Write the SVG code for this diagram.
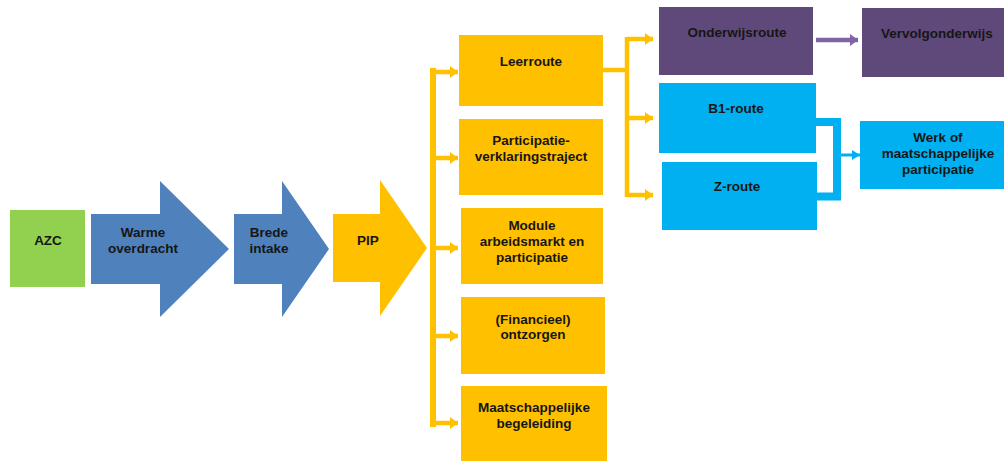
<svg xmlns="http://www.w3.org/2000/svg" width="1004" height="461" viewBox="0 0 1004 461">
<style>
text{font-family:"Liberation Sans",Arial,sans-serif;font-weight:bold;font-size:13.5px;fill:#161616;text-anchor:middle}
.green{fill:#92D050}
.blue{fill:#4F81BD}
.yellow{fill:#FFC000}
.purple{fill:#5F497A}
.cyan{fill:#00B0F0}
.ylink{fill:none;stroke:#FFC000;stroke-width:4.5}
.yspine{fill:none;stroke:#FFC000;stroke-width:6}
.plink{fill:none;stroke:#8064A2;stroke-width:4.5}
.clink{fill:none;stroke:#00B0F0;stroke-width:3}
.cbracket{fill:none;stroke:#00B0F0;stroke-width:8}
</style>
<defs>
<marker id="ay" markerUnits="userSpaceOnUse" markerWidth="8" markerHeight="12" refX="8" refY="6" orient="auto"><path d="M0,0 L8,6 L0,12 Z" fill="#FFC000"/></marker>
<marker id="ap" markerUnits="userSpaceOnUse" markerWidth="8" markerHeight="12" refX="8" refY="6" orient="auto"><path d="M0,0 L8,6 L0,12 Z" fill="#8064A2"/></marker>
<marker id="ac" markerUnits="userSpaceOnUse" markerWidth="8" markerHeight="10" refX="8" refY="5" orient="auto"><path d="M0,0 L8,5 L0,10 Z" fill="#00B0F0"/></marker>
</defs>

<g id="connectors">
<path class="yspine" d="M433,68 V427"/>
<path class="ylink" d="M433,72 H458" marker-end="url(#ay)"/>
<path class="ylink" d="M433,158 H458" marker-end="url(#ay)"/>
<path class="ylink" d="M433,248 H458" marker-end="url(#ay)"/>
<path class="ylink" d="M433,336 H458" marker-end="url(#ay)"/>
<path class="ylink" d="M433,423 H458" marker-end="url(#ay)"/>
<path class="ylink" d="M603,70 H627"/>
<path class="ylink" d="M627,37 V197"/>
<path class="ylink" d="M627,39 H653" marker-end="url(#ay)"/>
<path class="ylink" d="M627,118 H653" marker-end="url(#ay)"/>
<path class="ylink" d="M627,195 H653" marker-end="url(#ay)"/>
<path class="plink" d="M816,40 H858" marker-end="url(#ap)"/>
<path class="cbracket" d="M816,122 H837 V196.5 H817"/>
<path class="clink" d="M841,155 H860" marker-end="url(#ac)"/>
</g>

<g id="azc"><rect class="green" x="10" y="210" width="75" height="77"/><text x="48" y="245">AZC</text></g>
<g id="warme-overdracht"><polygon class="blue" points="91,214 160,214 160,181 229,249 160,317 160,284 91,284"/><text x="143" y="237">Warme</text><text x="143" y="253">overdracht</text></g>
<g id="brede-intake"><polygon class="blue" points="234,214 282,214 282,181 329,249 282,317 282,284 234,284"/><text x="269" y="237">Brede</text><text x="269" y="253">intake</text></g>
<g id="pip"><polygon class="yellow" points="333,214 380,214 380,180 427,248 380,316 380,282 333,282"/><text x="368" y="245">PIP</text></g>

<g id="leerroute"><rect class="yellow" x="459" y="35" width="144" height="71"/><text x="531" y="66">Leerroute</text></g>
<g id="participatie"><rect class="yellow" x="459" y="119" width="144" height="76"/><text x="531" y="145">Participatie-</text><text x="531" y="161">verklaringstraject</text></g>
<g id="module"><rect class="yellow" x="461" y="208" width="142" height="76"/><text x="532" y="230">Module</text><text x="532" y="246">arbeidsmarkt en</text><text x="532" y="262">participatie</text></g>
<g id="ontzorgen"><rect class="yellow" x="461" y="297" width="144" height="77"/><text x="533" y="324">(Financieel)</text><text x="533" y="339">ontzorgen</text></g>
<g id="begeleiding"><rect class="yellow" x="461" y="386" width="146" height="75"/><text x="534" y="412">Maatschappelijke</text><text x="534" y="428">begeleiding</text></g>

<g id="onderwijsroute"><rect class="purple" x="659" y="7" width="154" height="68"/><text x="737" y="37">Onderwijsroute</text></g>
<g id="vervolgonderwijs"><rect class="purple" x="862" y="8" width="142" height="69"/><text x="937" y="38">Vervolgonderwijs</text></g>
<g id="b1-route"><rect class="cyan" x="659" y="83" width="157" height="70"/><text x="736" y="113">B1-route</text></g>
<g id="z-route"><rect class="cyan" x="662" y="162" width="155" height="68"/><text x="737" y="191">Z-route</text></g>
<g id="werk"><rect class="cyan" x="860" y="121" width="144" height="68"/><text x="938" y="142">Werk of</text><text x="938" y="158">maatschappelijke</text><text x="938" y="174">participatie</text></g>
</svg>
